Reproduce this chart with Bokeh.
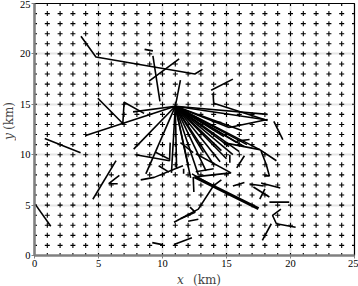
import math
from bokeh.plotting import figure
from bokeh.models import Label, FixedTicker, Range1d
from bokeh.layouts import row, column
from bokeh.embed import file_html
from bokeh.resources import INLINE

# grid of measurement stations (+ markers)
grid_vals = list(range(0, 26))
tick_vals = [0, 5, 10, 15, 20, 25]

# rays from the central hub
hub_x = 11.0
hub_y = 14.8
ray_end_x = [4.0, 7.75, 8.7, 10.7, 11.1, 11.4, 7.7, 18.2, 18.2, 15.2,
             15.8, 16.6, 17.6, 16.4, 16.0, 15.5, 15.0, 14.5, 14.0, 13.4,
             12.8, 12.2, 12.0, 13.2, 14.8, 16.2, 15.2, 14.6]
ray_end_y = [11.9, 10.55, 8.1, 8.2, 8.6, 17.4, 14.25, 14.0, 13.45, 12.7,
             11.2, 11.0, 10.5, 10.8, 10.3, 10.0, 9.6, 9.3, 9.0, 8.4,
             8.0, 7.7, 9.0, 10.2, 11.8, 12.4, 10.8, 10.4]

# other tracks (polylines)
path_xs = [
    [3.63, 4.80, 12.53, 13.12],
    [8.6, 9.25],
    [9.25, 9.8],
    [8.95, 11.3],
    [13.8, 15.5],
    [13.95, 14.0, 18.2],
    [4.95, 6.9, 7.0, 8.56],
    [0.8, 3.6],
    [0.05, 1.27],
    [6.37, 4.56],
    [6.63, 5.8, 6.5],
    [7.9, 10.55, 10.6],
    [9.46, 10.5],
    [8.3, 9.35, 11.0, 11.6],
    [9.7, 10.5],
    [13.97, 12.8, 10.9],
    [12.15, 12.55, 11.4],
    [12.0, 12.8],
    [10.9, 12.3],
    [9.2, 9.98],
    [12.4, 12.45],
    [11.65, 11.65],
    [15.5, 16.4],
    [16.8, 17.9],
    [17.7, 19.2],
    [17.1, 18.35],
    [17.6, 18.0],
    [18.35, 19.9],
    [19.25, 18.6, 18.9, 20.4],
    [18.5, 17.8],
    [18.7, 19.4],
    [14.75, 17.6, 18.9],
    [17.7, 18.1, 18.35, 17.97],
    [15.26, 15.26],
    [15.8, 16.4],
    [12.6, 15.35, 12.5],
    [13.85, 14.6],
    [15.2, 18.2],
    [12.3, 13.97, 14.6],
    [12.6, 14.0],
    [15.8, 16.8],
    [11.4, 12.4],
]
path_ys = [
    [21.75, 19.69, 18.01, 18.47],
    [20.45, 20.3],
    [19.8, 15.3],
    [17.3, 19.5],
    [16.4, 17.5],
    [16.1, 15.1, 13.4],
    [15.6, 13.1, 15.2, 14.1],
    [11.6, 10.2],
    [5.1, 2.9],
    [9.42, 5.58],
    [7.94, 7.12, 7.12],
    [10.0, 9.4, 11.2],
    [10.24, 9.58],
    [7.5, 7.75, 8.6, 8.9],
    [8.9, 8.27],
    [6.9, 4.6, 3.3],
    [4.8, 4.3, 3.65],
    [3.4, 3.6],
    [1.1, 1.75],
    [1.28, 1.08],
    [7.8, 6.3],
    [8.6, 8.1],
    [6.9, 7.25],
    [7.1, 6.9],
    [7.2, 6.7],
    [6.8, 5.8],
    [5.6, 6.6],
    [5.3, 5.3],
    [4.6, 3.97, 3.15, 2.8],
    [3.15, 1.5],
    [13.3, 11.5],
    [11.2, 10.5, 9.4],
    [10.36, 9.06, 7.9, 7.9],
    [10.0, 9.2],
    [8.7, 9.9],
    [10.1, 8.2, 7.8],
    [13.3, 13.2],
    [12.7, 13.5],
    [8.1, 6.9, 7.5],
    [8.3, 8.6],
    [11.35, 11.5],
    [11.2, 10.2],
]

# the long heavy track
heavy_x = [12.5, 17.5]
heavy_y = [7.8, 4.65]

xr = Range1d(0, 25)
yr = Range1d(0, 25)

p = figure(width=342, height=272, output_backend="svg", toolbar_location=None,
           x_range=xr, y_range=yr,
           min_border_left=15, min_border_right=4, min_border_top=3, min_border_bottom=17)

p.background_fill_color = "white"
p.border_fill_color = "white"
p.outline_line_color = "black"
p.outline_line_width = 1.2

for ax in (p.xaxis, p.yaxis):
    ax.ticker = FixedTicker(ticks=tick_vals)
    ax.axis_line_color = "#808080"
    ax.axis_line_width = 2.5
    ax.major_tick_line_color = "#808080"
    ax.major_tick_in = 0
    ax.major_tick_out = 3
    ax.minor_tick_line_color = None
    ax.major_label_text_font = "Liberation Serif"
    ax.major_label_text_font_size = "10.5px"
    ax.major_label_text_color = "black"
    ax.major_label_standoff = 1

p.xgrid.ticker = FixedTicker(ticks=tick_vals)
p.ygrid.ticker = FixedTicker(ticks=tick_vals)
p.grid.grid_line_color = "#e6e6e6"
p.grid.grid_line_width = 2

gx = [x for x in grid_vals for _ in grid_vals]
gy = [y for _ in grid_vals for y in grid_vals]
p.scatter(gx, gy, marker="cross", size=5, line_color="black", line_width=1.1)

p.segment(x0=[hub_x] * len(ray_end_x), y0=[hub_y] * len(ray_end_y),
          x1=ray_end_x, y1=ray_end_y, line_color="black", line_width=1.6)
p.multi_line(path_xs, path_ys, line_color="black", line_width=1.6)
p.line(heavy_x, heavy_y, line_color="black", line_width=3)

lab_font = "DejaVu Serif"
lab_size = "12px"

# left strip for the y-axis title (same vertical frame as the main plot)
pl = figure(width=16, height=272, output_backend="svg", toolbar_location=None,
            x_range=Range1d(0, 1), y_range=yr, x_axis_type=None, y_axis_type=None,
            min_border_left=0, min_border_right=0, min_border_top=3, min_border_bottom=17)
pl.outline_line_color = None
pl.grid.visible = False
pl.add_layout(Label(x=8.5, y=11.8, x_units="screen", y_units="data", text="y",
                    text_font=lab_font, text_font_style="italic", text_font_size=lab_size,
                    text_align="center", text_baseline="middle", angle=math.pi / 2))
pl.add_layout(Label(x=8.5, y=12.45, x_units="screen", y_units="data", text="(km)",
                    text_font=lab_font, text_font_size=lab_size,
                    text_align="left", text_baseline="middle", angle=math.pi / 2))

# bottom strip for the x-axis title, spanning the full width
px_per_unit = 323 / 25
pb = figure(width=358, height=14, output_backend="svg", toolbar_location=None,
            x_range=Range1d(-31 / px_per_unit, 25 + 4 / px_per_unit), y_range=Range1d(0, 1),
            x_axis_type=None, y_axis_type=None,
            min_border_left=0, min_border_right=0, min_border_top=0, min_border_bottom=0)
pb.outline_line_color = None
pb.grid.visible = False
pb.add_layout(Label(x=11.53, y=7, x_units="data", y_units="screen", text="x",
                    text_font=lab_font, text_font_style="italic", text_font_size=lab_size,
                    text_align="center", text_baseline="middle"))
pb.add_layout(Label(x=12.5, y=7, x_units="data", y_units="screen", text="(km)",
                    text_font=lab_font, text_font_size=lab_size,
                    text_align="left", text_baseline="middle"))

layout = column(row(pl, p, spacing=0), pb, spacing=0)

open("out.html", "w").write(file_html(layout, INLINE))
